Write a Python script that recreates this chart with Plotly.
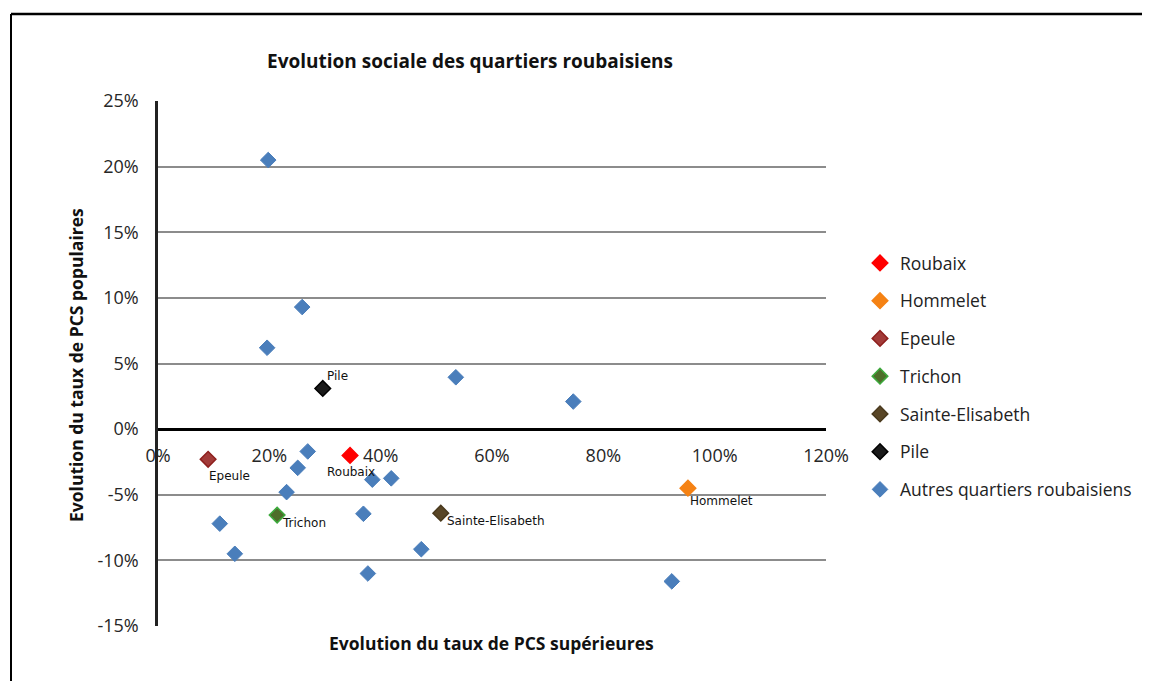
import plotly.graph_objects as go

# Special neighbourhoods
special_names = ["Roubaix", "Hommelet", "Epeule", "Trichon", "Sainte-Elisabeth", "Pile"]
special_x = [34.5, 95.2, 9.0, 21.4, 50.8, 29.6]
special_y = [-2.0, -4.5, -2.3, -6.55, -6.4, 3.1]
special_fill = ["#FF0000", "#F58214", "#A23B39", "#4E6E2A", "#594626", "#1A1A1A"]
special_line = ["#FF0000", "#F58214", "#8E1F1D", "#3DAA3D", "#4A3A1E", "#000000"]
label_dx = [-25, 0, -1, 3, 4, 2]
label_dy = [-17, -13, -17, -8, -8, 12]

# Other neighbourhoods
other_x = [19.8, 25.9, 19.6, 53.5, 74.6, 26.9, 25.1, 38.5, 41.9, 23.1, 11.1, 36.9, 13.8, 47.3, 37.7, 92.3]
other_y = [20.5, 9.3, 6.2, 3.95, 2.1, -1.7, -2.95, -3.85, -3.75, -4.8, -7.2, -6.45, -9.5, -9.15, -11.0, -11.6]

x_ticks = [0, 20, 40, 60, 80, 100, 120]
y_ticks = [-15, -10, -5, 0, 5, 10, 15, 20, 25]

FONT = "Open Sans"
OFF = 8  # page body margin
FW, FH = 1150 - OFF, 681 - OFF

fig = go.Figure()
for i, n in enumerate(special_names):
    fig.add_trace(go.Scatter(
        x=[special_x[i]], y=[special_y[i]], mode="markers", name=n,
        legendgroup=n,
        marker=dict(symbol="diamond", size=12, color=special_fill[i],
                    line=dict(color=special_line[i], width=1.5)),
    ))
fig.add_trace(go.Scatter(
    x=other_x, y=other_y, mode="markers", name="Autres quartiers roubaisiens",
    legendgroup="autres",
    marker=dict(symbol="diamond", size=12, color="#4A7EBB", line=dict(color="#4A7EBB", width=1)),
))

for i, n in enumerate(special_names):
    fig.add_annotation(x=special_x[i], y=special_y[i], text=n, showarrow=False,
                       xanchor="left", yanchor="middle", xshift=label_dx[i], yshift=label_dy[i],
                       font=dict(family="DejaVu Sans", size=12, color="#111"))

# window-pixel geometry of plot area
L0, R0, T0, B0 = 158, 826, 101, 626
L, T = L0 - OFF, T0 - OFF
R = FW - (R0 - OFF)
B = FH - (B0 - OFF)
W, H = R0 - L0, B0 - T0

def px(x):
    return (x - L0) / W

def py(y):
    return (B0 - y) / H

fig.add_shape(type="line", xref="paper", yref="paper", x0=px(11), x1=px(1160), y0=py(14), y1=py(14),
              line=dict(color="black", width=2.5))
fig.add_shape(type="line", xref="paper", yref="paper", x0=px(11), x1=px(11), y0=py(14), y1=py(700),
              line=dict(color="black", width=2))

fig.add_annotation(xref="paper", yref="paper", x=px(470), y=py(61), xanchor="center", yanchor="middle",
                   text="<b>Evolution sociale des quartiers roubaisiens</b>",
                   showarrow=False, font=dict(family=FONT, size=19, color="#111"))
fig.add_annotation(xref="paper", yref="paper", x=px(491), y=py(643), xanchor="center", yanchor="middle",
                   text="<b>Evolution du taux de PCS supérieures</b>",
                   showarrow=False, font=dict(family=FONT, size=17.5, color="#111"))
fig.add_annotation(xref="paper", yref="paper", x=px(76), y=py(365), xanchor="center", yanchor="middle",
                   text="<b>Evolution du taux de PCS populaires</b>",
                   textangle=-90, showarrow=False, font=dict(family=FONT, size=17.5, color="#111"))

fig.update_layout(
    width=FW, height=FH,
    margin=dict(l=L, r=R, t=T, b=B),
    paper_bgcolor="white", plot_bgcolor="white",
    font=dict(family=FONT, size=18, color="#262626"),
    showlegend=True,
    legend=dict(x=px(860), y=py(245), xanchor="left", yanchor="top", tracegroupgap=12,
                font=dict(family=FONT, size=17.5, color="#222"), bgcolor="rgba(0,0,0,0)",
                borderwidth=0),
    xaxis=dict(range=[0, 120], tickvals=x_ticks, ticktext=[f"{v}%" for v in x_ticks],
               showgrid=False, zeroline=False, showline=True, linecolor="black", linewidth=2.5,
               anchor="free", position=0.375, ticks="", ticklabelstandoff=10,
               tickfont=dict(size=18, color="#262626")),
    yaxis=dict(range=[-15, 25], tickvals=y_ticks, ticktext=[f"{v}%" for v in y_ticks],
               showgrid=True, gridcolor="#8C8C8C", gridwidth=1.5, zeroline=True, zerolinecolor="black",
               zerolinewidth=2.5, showline=True, linecolor="#222", linewidth=2.5, ticks="",
               ticklabelstandoff=13, tickfont=dict(size=18, color="#262626")),
)

fig.write_html("out.html")
